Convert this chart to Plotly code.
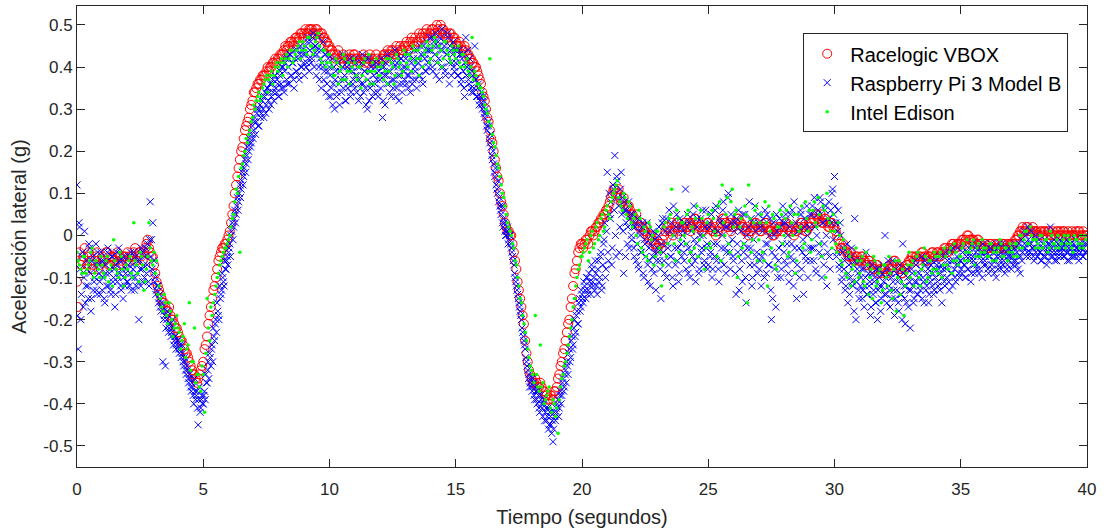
import numpy as np
import plotly.graph_objects as go

# ---------------- data ----------------
# Racelogic VBOX: samples at t = 0.0, 0.1, ... s  (vbox_a) and t = 0.05, 0.15, ... s (vbox_b)
vbox_dt = 0.1
vbox_a = [
    -0.11, -0.04, -0.06, -0.03, -0.07, -0.05, -0.08, -0.06, -0.04, -0.07,
    -0.05, -0.06, -0.04, -0.07, -0.05, -0.06, -0.04, -0.05, -0.07, -0.05,
    -0.04, -0.06, -0.05, -0.03, -0.05, -0.04, -0.06, -0.03, -0.01, -0.04,
    -0.05, -0.09, -0.12, -0.14, -0.16, -0.17, -0.18, -0.19, -0.20, -0.22,
    -0.23, -0.25, -0.26, -0.28, -0.29, -0.31, -0.33, -0.34, -0.34, -0.32,
    -0.30, -0.26, -0.21, -0.17, -0.13, -0.10, -0.06, -0.04, -0.03, -0.02,
    0.00, 0.03, 0.07, 0.12, 0.16, 0.20, 0.23, 0.26, 0.28, 0.31,
    0.34, 0.35, 0.36, 0.37, 0.38, 0.39, 0.39, 0.40, 0.41, 0.41,
    0.42, 0.43, 0.44, 0.44, 0.45, 0.46, 0.46, 0.47, 0.47, 0.48,
    0.48, 0.48, 0.49, 0.49, 0.48, 0.49, 0.47, 0.48, 0.47, 0.46,
    0.45, 0.44, 0.43, 0.43, 0.42, 0.42, 0.41, 0.42, 0.43, 0.42,
    0.43, 0.42, 0.41, 0.42, 0.41, 0.42, 0.43, 0.42, 0.41, 0.42,
    0.41, 0.42, 0.43, 0.44, 0.43, 0.44, 0.43, 0.44, 0.45, 0.44,
    0.45, 0.45, 0.46, 0.46, 0.47, 0.46, 0.47, 0.48, 0.48, 0.47,
    0.48, 0.49, 0.48, 0.49, 0.50, 0.49, 0.48, 0.47, 0.48, 0.47,
    0.46, 0.45, 0.45, 0.44, 0.44, 0.43, 0.42, 0.41, 0.40, 0.38,
    0.36, 0.33, 0.30, 0.27, 0.23, 0.20, 0.16, 0.13, 0.08, 0.05,
    0.02, 0.01, 0.00, -0.04, -0.08, -0.13, -0.17, -0.21, -0.28, -0.32,
    -0.34, -0.35, -0.35, -0.36, -0.36, -0.37, -0.38, -0.39, -0.38, -0.37,
    -0.36, -0.33, -0.30, -0.27, -0.23, -0.20, -0.15, -0.09, -0.06, -0.03,
    -0.02, -0.02, -0.01, 0.00, 0.01, 0.01, 0.02, 0.03, 0.04, 0.05,
    0.06, 0.08, 0.10, 0.11, 0.10, 0.09, 0.08, 0.07, 0.07, 0.06,
    0.05, 0.04, 0.03, 0.02, 0.02, 0.01, 0.00, 0.00, -0.01, -0.02,
    -0.03, -0.02, -0.01, 0.01, 0.02, 0.01, 0.00, 0.02, 0.03, 0.01,
    0.02, 0.03, 0.02, 0.01, 0.03, 0.04, 0.03, 0.02, 0.01, 0.02,
    0.03, 0.02, 0.01, 0.00, 0.01, 0.03, 0.04, 0.03, 0.02, 0.01,
    0.02, 0.03, 0.04, 0.03, 0.02, 0.01, 0.00, 0.01, 0.02, 0.03,
    0.02, 0.01, 0.02, 0.03, 0.02, 0.01, 0.00, 0.01, 0.02, 0.01,
    0.02, 0.03, 0.02, 0.01, 0.00, 0.01, 0.02, 0.03, 0.02, 0.01,
    0.02, 0.03, 0.04, 0.05, 0.04, 0.03, 0.04, 0.03, 0.02, 0.03,
    0.02, 0.00, -0.02, -0.03, -0.03, -0.04, -0.05, -0.05, -0.06, -0.05,
    -0.06, -0.05, -0.06, -0.07, -0.06, -0.07, -0.08, -0.07, -0.08, -0.09,
    -0.08, -0.09, -0.08, -0.07, -0.06, -0.07, -0.08, -0.09, -0.08, -0.07,
    -0.06, -0.05, -0.05, -0.06, -0.05, -0.04, -0.05, -0.06, -0.05, -0.04,
    -0.05, -0.04, -0.05, -0.04, -0.03, -0.04, -0.03, -0.02, -0.03, -0.02,
    -0.02, -0.01, -0.01, 0.00, -0.01, -0.01, -0.02, -0.01, -0.02, -0.03,
    -0.02, -0.03, -0.02, -0.03, -0.03, -0.02, -0.03, -0.02, -0.03, -0.03,
    -0.02, -0.02, -0.01, 0.00, 0.01, 0.01, 0.02, 0.01, 0.01, 0.01,
    0.01, 0.00, 0.01, 0.01, 0.00, 0.01, 0.00, 0.00, 0.01, 0.00,
    0.00, 0.01, 0.00, 0.00, 0.01, 0.00, 0.00, 0.01, 0.00, 0.00,
    0.00,
]
vbox_b = [
    -0.17, -0.07, -0.05, -0.08, -0.04, -0.06, -0.07, -0.05, -0.08, -0.06,
    -0.06, -0.04, -0.07, -0.05, -0.06, -0.05, -0.07, -0.06, -0.05, -0.06,
    -0.05, -0.05, -0.04, -0.06, -0.04, -0.05, -0.04, -0.02, -0.03, -0.05,
    -0.07, -0.11, -0.13, -0.15, -0.16, -0.18, -0.17, -0.20, -0.21, -0.22,
    -0.24, -0.25, -0.27, -0.28, -0.30, -0.32, -0.33, -0.35, -0.33, -0.31,
    -0.27, -0.24, -0.19, -0.15, -0.12, -0.08, -0.05, -0.03, -0.02, -0.01,
    0.01, 0.05, 0.10, 0.14, 0.18, 0.21, 0.25, 0.27, 0.30, 0.32,
    0.34, 0.36, 0.37, 0.38, 0.38, 0.40, 0.40, 0.41, 0.42, 0.42,
    0.43, 0.43, 0.45, 0.45, 0.46, 0.45, 0.47, 0.46, 0.48, 0.47,
    0.49, 0.48, 0.49, 0.48, 0.49, 0.48, 0.48, 0.47, 0.46, 0.45,
    0.44, 0.43, 0.42, 0.44, 0.41, 0.43, 0.42, 0.41, 0.42, 0.43,
    0.42, 0.41, 0.42, 0.43, 0.42, 0.41, 0.42, 0.41, 0.43, 0.41,
    0.42, 0.43, 0.42, 0.43, 0.44, 0.43, 0.45, 0.43, 0.44, 0.45,
    0.46, 0.44, 0.47, 0.45, 0.46, 0.48, 0.47, 0.47, 0.49, 0.48,
    0.49, 0.48, 0.50, 0.48, 0.49, 0.48, 0.47, 0.48, 0.46, 0.47,
    0.45, 0.46, 0.44, 0.45, 0.43, 0.42, 0.41, 0.40, 0.39, 0.37,
    0.34, 0.32, 0.28, 0.25, 0.22, 0.18, 0.14, 0.10, 0.07, 0.03,
    0.01, 0.00, -0.02, -0.06, -0.11, -0.15, -0.19, -0.25, -0.30, -0.33,
    -0.35, -0.34, -0.36, -0.35, -0.37, -0.38, -0.39, -0.38, -0.39, -0.37,
    -0.34, -0.31, -0.28, -0.25, -0.21, -0.17, -0.12, -0.08, -0.04, -0.02,
    -0.03, -0.01, -0.02, 0.01, 0.00, 0.02, 0.03, 0.04, 0.05, 0.06,
    0.07, 0.09, 0.11, 0.10, 0.11, 0.08, 0.09, 0.06, 0.07, 0.05,
    0.04, 0.05, 0.02, 0.03, 0.01, 0.02, -0.01, 0.00, -0.02, -0.03,
    -0.02, -0.03, 0.00, 0.02, 0.01, 0.03, 0.01, 0.03, 0.02, 0.02,
    0.03, 0.02, 0.03, 0.02, 0.04, 0.03, 0.02, 0.01, 0.02, 0.03,
    0.02, 0.01, 0.02, 0.01, 0.02, 0.04, 0.03, 0.02, 0.03, 0.02,
    0.03, 0.04, 0.03, 0.02, 0.01, 0.02, 0.01, 0.02, 0.03, 0.02,
    0.01, 0.02, 0.03, 0.02, 0.01, 0.00, 0.02, 0.01, 0.02, 0.02,
    0.03, 0.02, 0.01, 0.02, 0.01, 0.02, 0.03, 0.02, 0.01, 0.02,
    0.03, 0.04, 0.05, 0.04, 0.05, 0.03, 0.04, 0.02, 0.03, 0.02,
    0.01, -0.01, -0.03, -0.02, -0.04, -0.05, -0.04, -0.06, -0.05, -0.06,
    -0.05, -0.06, -0.07, -0.06, -0.07, -0.08, -0.07, -0.09, -0.08, -0.08,
    -0.09, -0.08, -0.07, -0.06, -0.07, -0.08, -0.09, -0.08, -0.07, -0.06,
    -0.05, -0.06, -0.05, -0.05, -0.04, -0.05, -0.06, -0.05, -0.04, -0.05,
    -0.04, -0.05, -0.04, -0.03, -0.04, -0.03, -0.02, -0.03, -0.02, -0.02,
    -0.01, -0.02, 0.00, -0.01, -0.01, -0.02, -0.01, -0.02, -0.03, -0.02,
    -0.03, -0.02, -0.03, -0.02, -0.03, -0.03, -0.02, -0.03, -0.02, -0.02,
    -0.02, -0.01, 0.00, 0.01, 0.02, 0.01, 0.02, 0.01, 0.02, 0.01,
    0.00, 0.01, 0.00, 0.01, 0.01, 0.00, 0.01, 0.00, 0.01, 0.01,
    0.01, 0.00, 0.01, 0.00, 0.00, 0.01, 0.01, 0.00, 0.01, 0.00,
]

# Raspberry Pi 3 Model B: samples at t = 0.0, 0.05, ... s (rpi_a) and t = 0.025, 0.075, ... s (rpi_b)
rpi_dt = 0.05
rpi_a = [
    0.12, -0.27, 0.02, -0.20, -0.05, -0.17, 0.01, -0.12, -0.08, -0.15, -0.03, -0.18, -0.06, -0.13, -0.10, -0.02, -0.14, -0.07, -0.11, -0.04,
    -0.13, -0.06, -0.16, -0.09, -0.04, -0.12, -0.08, -0.14, -0.05, -0.10, -0.17, -0.07, -0.11, -0.03, -0.09, -0.13, -0.06, -0.10, -0.12, -0.08,
    -0.11, -0.05, -0.09, -0.13, -0.07, -0.04, -0.10, -0.12, -0.06, -0.20, -0.08, -0.03, -0.11, -0.07, -0.05, -0.09, -0.02, -0.12, 0.08, -0.01,
    0.03, -0.06, -0.10, -0.13, -0.12, -0.15, -0.17, -0.16, -0.30, -0.18, -0.31, -0.20, -0.19, -0.22, -0.21, -0.23, -0.20, -0.25, -0.24, -0.26,
    -0.25, -0.28, -0.27, -0.26, -0.30, -0.29, -0.32, -0.31, -0.34, -0.33, -0.36, -0.35, -0.38, -0.34, -0.39, -0.37, -0.45, -0.36, -0.41, -0.38,
    -0.40, -0.37, -0.33, -0.35, -0.30, -0.28, -0.31, -0.26, -0.22, -0.25, -0.20, -0.16, -0.19, -0.12, -0.14, -0.09, -0.11, -0.06, -0.08, -0.05,
    -0.04, -0.02, 0.00, 0.03, 0.02, 0.06, 0.05, 0.09, 0.08, 0.12, 0.11, 0.15, 0.14, 0.18, 0.17, 0.21, 0.20, 0.23, 0.22, 0.26,
    0.25, 0.28, 0.27, 0.30, 0.26, 0.31, 0.29, 0.33, 0.28, 0.34, 0.31, 0.35, 0.30, 0.36, 0.33, 0.37, 0.32, 0.38, 0.34, 0.36,
    0.33, 0.39, 0.35, 0.40, 0.34, 0.41, 0.37, 0.42, 0.36, 0.43, 0.38, 0.41, 0.35, 0.44, 0.39, 0.42, 0.37, 0.45, 0.40, 0.43,
    0.38, 0.45, 0.41, 0.47, 0.39, 0.46, 0.42, 0.48, 0.40, 0.45, 0.43, 0.47, 0.37, 0.44, 0.41, 0.46, 0.39, 0.43, 0.36, 0.42,
    0.40, 0.33, 0.42, 0.36, 0.30, 0.39, 0.34, 0.41, 0.31, 0.37, 0.43, 0.35, 0.38, 0.32, 0.40, 0.36, 0.42, 0.34, 0.39, 0.37,
    0.35, 0.41, 0.38, 0.32, 0.40, 0.36, 0.43, 0.34, 0.39, 0.31, 0.30, 0.42, 0.35, 0.40, 0.33, 0.38, 0.36, 0.41, 0.34, 0.39,
    0.37, 0.42, 0.28, 0.40, 0.31, 0.38, 0.43, 0.36, 0.39, 0.33, 0.41, 0.37, 0.44, 0.35, 0.40, 0.32, 0.38, 0.42, 0.36, 0.39,
    0.40, 0.36, 0.43, 0.38, 0.34, 0.41, 0.37, 0.44, 0.39, 0.35, 0.42, 0.38, 0.45, 0.40, 0.36, 0.43, 0.39, 0.46, 0.41, 0.44,
    0.42, 0.47, 0.39, 0.45, 0.48, 0.41, 0.46, 0.37, 0.44, 0.49, 0.40, 0.45, 0.38, 0.43, 0.47, 0.36, 0.44, 0.41, 0.46, 0.39,
    0.41, 0.44, 0.38, 0.43, 0.36, 0.42, 0.39, 0.33, 0.47, 0.40, 0.37, 0.42, 0.35, 0.39, 0.34, 0.45, 0.37, 0.33, 0.36, 0.32,
    0.34, 0.30, 0.32, 0.28, 0.29, 0.25, 0.26, 0.22, 0.21, 0.18, 0.17, 0.14, 0.12, 0.10, 0.08, 0.07, 0.05, 0.03, 0.04, 0.01,
    0.00, 0.02, -0.01, 0.00, -0.03, -0.05, -0.07, -0.10, -0.12, -0.14, -0.16, -0.18, -0.20, -0.23, -0.25, -0.27, -0.30, -0.32, -0.33, -0.35,
    -0.36, -0.34, -0.38, -0.36, -0.39, -0.37, -0.41, -0.38, -0.40, -0.43, -0.39, -0.42, -0.44, -0.41, -0.45, -0.43, -0.47, -0.49, -0.42, -0.44,
    -0.42, -0.39, -0.41, -0.37, -0.38, -0.34, -0.36, -0.32, -0.30, -0.33, -0.27, -0.29, -0.24, -0.26, -0.20, -0.23, -0.18, -0.21, -0.15, -0.17,
    -0.14, -0.16, -0.12, -0.15, -0.10, -0.13, -0.11, -0.14, -0.08, -0.12, -0.13, -0.09, -0.14, -0.06, -0.10, -0.04, -0.12, -0.02, 0.03, -0.08,
    0.15, -0.06, 0.05, 0.08, -0.03, 0.11, 0.19, -0.05, 0.13, 0.07, 0.02, 0.15, 0.09, -0.09, 0.06, 0.03, -0.02, 0.08, 0.04, 0.00,
    0.05, -0.03, 0.02, -0.06, 0.04, -0.08, 0.00, -0.04, 0.03, -0.10, -0.02, 0.01, -0.07, -0.03, -0.12, 0.00, -0.05, -0.09, -0.01, -0.06,
    -0.04, 0.02, -0.08, -0.02, 0.04, -0.06, 0.01, -0.10, -0.03, 0.06, -0.05, 0.03, -0.12, 0.00, -0.07, 0.05, -0.03, -0.09, 0.02, -0.05,
    0.01, -0.06, 0.11, -0.02, -0.09, 0.03, -0.04, -0.07, 0.05, -0.01, -0.11, 0.02, -0.05, -0.08, 0.04, -0.03, 0.00, -0.06, 0.06, -0.02,
    -0.07, 0.03, -0.04, -0.10, 0.01, -0.05, 0.07, -0.02, -0.08, 0.04, -0.06, 0.00, 0.08, -0.03, -0.09, 0.02, 0.10, -0.04, 0.05, -0.01,
    -0.06, 0.03, -0.14, -0.02, 0.06, -0.08, 0.01, -0.11, -0.04, 0.05, -0.16, -0.03, 0.02, -0.07, 0.04, -0.10, -0.01, 0.07, -0.05, -0.09,
    0.03, -0.06, -0.12, 0.01, -0.04, 0.06, -0.09, -0.02, -0.07, 0.04, -0.20, -0.15, 0.00, -0.05, 0.05, -0.10, -0.03, 0.02, -0.08, 0.07,
    -0.04, 0.03, -0.07, 0.00, -0.11, 0.05, -0.02, -0.06, 0.08, -0.09, -0.15, 0.01, -0.03, 0.06, -0.08, -0.01, 0.04, -0.05, 0.07, -0.10,
    0.02, -0.06, 0.05, -0.03, 0.09, -0.08, 0.00, 0.06, -0.04, 0.08, -0.10, 0.03, -0.02, 0.07, -0.12, 0.04, -0.05, 0.06, 0.10, -0.01,
    0.14, 0.03, -0.04, 0.06, -0.08, 0.00, -0.10, -0.03, -0.06, -0.12, -0.02, -0.09, -0.14, -0.05, -0.11, -0.07, 0.04, -0.20, -0.08, -0.13,
    -0.06, -0.10, -0.15, -0.08, -0.12, -0.04, -0.14, -0.09, -0.11, -0.17, -0.07, -0.13, -0.10, -0.16, -0.20, -0.08, -0.12, -0.15, -0.09, -0.11,
    0.00, -0.14, -0.08, -0.12, -0.17, -0.10, -0.06, -0.13, -0.15, -0.09, -0.11, -0.18, -0.07, -0.14, -0.02, -0.12, -0.21, -0.16, -0.10, -0.13,
    -0.22, -0.08, -0.12, -0.15, -0.06, -0.11, -0.14, -0.09, -0.13, -0.05, -0.10, -0.16, -0.07, -0.12, -0.08, -0.14, -0.11, -0.06, -0.09, -0.13,
    -0.10, -0.07, -0.12, -0.05, -0.09, -0.16, -0.08, -0.11, -0.04, -0.10, -0.07, -0.13, -0.06, -0.09, -0.03, -0.08, -0.11, -0.05, -0.07, -0.10,
    -0.06, -0.09, -0.03, -0.07, -0.10, -0.04, -0.08, -0.05, -0.11, -0.02, -0.06, -0.09, -0.04, -0.07, -0.03, -0.08, -0.05, -0.10, -0.04, -0.06,
    -0.07, -0.03, -0.09, -0.05, -0.02, -0.08, -0.04, -0.06, -0.10, -0.03, -0.07, -0.05, -0.08, -0.02, -0.06, -0.09, -0.04, -0.07, -0.03, -0.05,
    -0.08, -0.04, -0.06, -0.02, -0.07, -0.03, -0.05, -0.09, -0.01, -0.04, 0.01, -0.03, -0.05, 0.02, -0.02, -0.04, 0.01, -0.03, -0.06, 0.00,
    -0.03, -0.05, -0.01, -0.04, -0.06, -0.02, -0.03, -0.05, -0.07, -0.02, -0.04, 0.02, -0.03, -0.05, -0.01, -0.04, -0.06, -0.02, -0.03, -0.05,
    -0.04, -0.02, -0.05, -0.03, -0.01, -0.04, -0.06, -0.02, -0.03, -0.05, -0.04, -0.01, -0.03, -0.05, -0.02, -0.04, -0.03, -0.05, -0.02, -0.04,
]
rpi_b = [
    -0.19, 0.03, -0.08, -0.14, -0.04, -0.10, -0.16, -0.06, -0.12, -0.02, -0.09, -0.15, -0.05, -0.11, -0.07, -0.13, -0.04, -0.09, -0.14, -0.06,
    -0.10, -0.15, -0.07, -0.12, -0.03, -0.09, -0.13, -0.05, -0.11, -0.08, -0.14, -0.04, -0.10, -0.06, -0.12, -0.08, -0.15, -0.05, -0.09, -0.11,
    -0.07, -0.12, -0.04, -0.10, -0.08, -0.13, -0.05, -0.09, -0.11, -0.06, -0.12, -0.08, -0.04, -0.10, -0.03, -0.07, -0.11, -0.01, -0.05, -0.08,
    -0.09, -0.11, -0.14, -0.12, -0.16, -0.14, -0.18, -0.17, -0.20, -0.19, -0.22, -0.18, -0.23, -0.21, -0.24, -0.22, -0.26, -0.24, -0.27, -0.25,
    -0.27, -0.26, -0.29, -0.28, -0.31, -0.30, -0.33, -0.32, -0.35, -0.34, -0.37, -0.36, -0.40, -0.37, -0.38, -0.41, -0.39, -0.42, -0.39, -0.40,
    -0.38, -0.39, -0.35, -0.32, -0.34, -0.29, -0.27, -0.30, -0.24, -0.21, -0.23, -0.18, -0.20, -0.15, -0.13, -0.10, -0.12, -0.08, -0.06, -0.07,
    -0.03, -0.05, 0.01, -0.01, 0.04, 0.03, 0.07, 0.06, 0.10, 0.09, 0.13, 0.12, 0.16, 0.15, 0.19, 0.18, 0.22, 0.21, 0.24, 0.23,
    0.27, 0.24, 0.29, 0.26, 0.30, 0.28, 0.32, 0.30, 0.33, 0.29, 0.35, 0.32, 0.34, 0.31, 0.36, 0.34, 0.38, 0.35, 0.37, 0.33,
    0.38, 0.36, 0.40, 0.35, 0.39, 0.42, 0.36, 0.40, 0.43, 0.38, 0.41, 0.37, 0.42, 0.39, 0.44, 0.38, 0.43, 0.40, 0.44, 0.41,
    0.43, 0.40, 0.46, 0.42, 0.44, 0.41, 0.47, 0.43, 0.45, 0.38, 0.44, 0.40, 0.42, 0.35, 0.40, 0.37, 0.43, 0.34, 0.39, 0.33,
    0.38, 0.35, 0.31, 0.40, 0.37, 0.33, 0.41, 0.36, 0.39, 0.34, 0.40, 0.37, 0.32, 0.41, 0.35, 0.39, 0.33, 0.40, 0.36, 0.42,
    0.38, 0.34, 0.40, 0.37, 0.33, 0.41, 0.36, 0.39, 0.35, 0.42, 0.37, 0.32, 0.39, 0.36, 0.41, 0.34, 0.40, 0.37, 0.33, 0.38,
    0.35, 0.40, 0.32, 0.38, 0.41, 0.36, 0.39, 0.34, 0.42, 0.37, 0.35, 0.40, 0.33, 0.41, 0.38, 0.36, 0.42, 0.34, 0.40, 0.37,
    0.42, 0.38, 0.35, 0.43, 0.39, 0.36, 0.42, 0.40, 0.37, 0.44, 0.41, 0.38, 0.43, 0.37, 0.45, 0.42, 0.39, 0.44, 0.40, 0.47,
    0.44, 0.40, 0.46, 0.43, 0.38, 0.45, 0.42, 0.47, 0.40, 0.44, 0.46, 0.39, 0.43, 0.48, 0.41, 0.45, 0.38, 0.43, 0.40, 0.44,
    0.42, 0.38, 0.44, 0.40, 0.37, 0.43, 0.35, 0.41, 0.38, 0.44, 0.36, 0.40, 0.34, 0.38, 0.35, 0.37, 0.33, 0.35, 0.31, 0.33,
    0.31, 0.33, 0.29, 0.30, 0.26, 0.27, 0.23, 0.24, 0.19, 0.20, 0.15, 0.16, 0.11, 0.13, 0.09, 0.06, 0.07, 0.02, 0.03, 0.00,
    0.01, -0.02, 0.00, -0.02, -0.04, -0.06, -0.09, -0.11, -0.13, -0.15, -0.17, -0.19, -0.22, -0.24, -0.26, -0.29, -0.31, -0.34, -0.36, -0.34,
    -0.37, -0.35, -0.39, -0.37, -0.40, -0.38, -0.42, -0.39, -0.41, -0.40, -0.44, -0.41, -0.43, -0.46, -0.42, -0.45, -0.44, -0.46, -0.43, -0.41,
    -0.40, -0.43, -0.38, -0.40, -0.35, -0.37, -0.33, -0.35, -0.31, -0.28, -0.30, -0.25, -0.27, -0.22, -0.24, -0.19, -0.21, -0.16, -0.18, -0.13,
    -0.15, -0.11, -0.13, -0.10, -0.14, -0.09, -0.12, -0.07, -0.11, -0.10, -0.06, -0.12, -0.08, -0.11, -0.05, -0.13, -0.07, -0.01, -0.10, 0.01,
    -0.04, 0.10, 0.04, -0.07, 0.12, 0.06, 0.00, 0.14, 0.09, -0.04, 0.11, 0.05, 0.01, 0.08, -0.05, 0.06, 0.02, -0.03, 0.05, -0.01,
    0.02, -0.05, 0.03, -0.02, -0.07, 0.01, -0.04, 0.02, -0.09, -0.01, -0.05, 0.03, -0.11, -0.06, -0.02, -0.08, 0.01, -0.04, -0.13, -0.03,
    0.00, -0.06, -0.15, 0.03, -0.04, -0.09, 0.04, -0.02, -0.07, 0.01, -0.05, -0.10, 0.07, -0.03, 0.02, -0.06, -0.11, 0.04, -0.02, 0.00,
    -0.04, 0.03, -0.08, 0.05, -0.03, -0.10, 0.01, -0.05, 0.07, -0.06, -0.02, 0.04, -0.09, 0.00, -0.04, 0.06, -0.07, 0.02, -0.03, -0.08,
    0.02, -0.05, 0.05, -0.08, -0.02, 0.06, -0.06, 0.01, -0.11, 0.03, -0.03, 0.06, -0.07, 0.02, -0.04, 0.09, -0.02, -0.08, 0.03, -0.05,
    0.01, -0.09, 0.04, -0.04, -0.13, 0.02, -0.06, 0.05, -0.02, -0.10, 0.00, -0.05, 0.08, -0.03, -0.12, 0.03, -0.07, 0.01, -0.04, 0.05,
    -0.08, 0.02, -0.05, 0.04, -0.10, -0.02, 0.05, -0.07, 0.00, -0.13, -0.04, 0.03, -0.08, -0.17, 0.01, -0.06, 0.04, -0.10, -0.02, 0.03,
    -0.06, 0.05, -0.02, -0.09, 0.02, -0.05, 0.06, -0.12, -0.03, 0.03, -0.07, 0.01, -0.10, 0.05, -0.04, -0.14, 0.02, -0.06, 0.00, -0.03,
    0.05, -0.03, 0.07, -0.06, 0.02, -0.09, 0.05, -0.02, 0.09, -0.05, 0.03, -0.07, 0.06, 0.00, -0.04, 0.08, -0.08, 0.03, 0.11, 0.05,
    0.07, -0.05, 0.01, -0.07, 0.03, -0.11, -0.04, -0.08, -0.13, -0.05, -0.16, -0.07, -0.10, -0.03, -0.12, -0.18, -0.06, -0.11, -0.09, -0.15,
    -0.12, -0.08, -0.13, -0.17, -0.10, -0.14, -0.07, -0.12, -0.19, -0.09, -0.14, -0.11, -0.16, -0.08, -0.13, -0.10, -0.18, -0.12, -0.07, -0.14,
    -0.10, -0.16, -0.06, -0.13, -0.09, -0.15, -0.11, -0.19, -0.08, -0.13, -0.16, -0.10, -0.14, -0.20, -0.09, -0.15, -0.12, -0.08, -0.17, -0.11,
    -0.13, -0.09, -0.16, -0.11, -0.07, -0.14, -0.10, -0.12, -0.08, -0.15, -0.11, -0.06, -0.13, -0.09, -0.16, -0.10, -0.07, -0.12, -0.14, -0.08,
    -0.06, -0.11, -0.08, -0.13, -0.07, -0.10, -0.05, -0.12, -0.08, -0.06, -0.11, -0.04, -0.09, -0.12, -0.06, -0.10, -0.07, -0.03, -0.09, -0.06,
    -0.08, -0.04, -0.07, -0.10, -0.05, -0.08, -0.03, -0.06, -0.09, -0.05, -0.07, -0.03, -0.08, -0.05, -0.09, -0.04, -0.06, -0.02, -0.07, -0.05,
    -0.04, -0.08, -0.05, -0.03, -0.07, -0.06, -0.09, -0.04, -0.05, -0.08, -0.02, -0.06, -0.04, -0.07, -0.05, -0.03, -0.08, -0.05, -0.06, -0.04,
    -0.05, -0.07, -0.03, -0.06, -0.04, -0.08, -0.02, -0.05, -0.06, -0.03, -0.02, 0.00, -0.04, -0.01, -0.05, -0.02, -0.03, -0.05, -0.01, -0.04,
    -0.05, -0.02, -0.04, -0.06, -0.03, -0.05, -0.01, -0.04, -0.03, -0.06, -0.02, -0.05, -0.04, -0.02, -0.06, -0.03, -0.05, -0.04, -0.01, -0.03,
    -0.03, -0.05, -0.02, -0.04, -0.06, -0.03, -0.02, -0.05, -0.04, -0.02, -0.05, -0.03, -0.04, -0.06, -0.03, -0.02, -0.05, -0.03, -0.04, -0.02,
]

# Intel Edison: samples at t = 0.05, 0.15, ... s (edison_a) and t = 0.0, 0.1, ... s (edison_b)
edison_dt = 0.1
edison_a = [
    -0.06, -0.08, -0.05, -0.09, -0.07, -0.04, -0.10, -0.06, -0.08, -0.05,
    -0.09, -0.06, -0.11, -0.07, -0.01, -0.08, -0.10, -0.05, -0.12, -0.07,
    -0.06, -0.09, 0.03, -0.07, -0.11, -0.05, -0.13, -0.08, 0.03, -0.06,
    -0.04, -0.06, -0.12, -0.17, -0.14, -0.19, -0.16, -0.20, -0.22, -0.19,
    -0.23, -0.25, -0.21, -0.27, -0.16, -0.30, -0.22, -0.33, -0.36, -0.31,
    -0.42, -0.15, -0.25, -0.19, -0.14, -0.10, -0.07, -0.05, -0.03, -0.02,
    0.00, 0.04, 0.08, 0.10, -0.04, 0.17, 0.20, 0.22, 0.25, 0.28,
    0.30, 0.33, 0.32, 0.35, 0.37, 0.34, 0.38, 0.36, 0.40, 0.39,
    0.41, 0.38, 0.42, 0.40, 0.44, 0.41, 0.43, 0.45, 0.42, 0.46,
    0.44, 0.47, 0.45, 0.43, 0.46, 0.48, 0.42, 0.44, 0.40, 0.43,
    0.41, 0.38, 0.42, 0.36, 0.40, 0.43, 0.37, 0.41, 0.39, 0.42,
    0.38, 0.40, 0.35, 0.41, 0.37, 0.43, 0.39, 0.36, 0.42, 0.38,
    0.40, 0.37, 0.42, 0.39, 0.41, 0.36, 0.43, 0.40, 0.38, 0.44,
    0.41, 0.43, 0.39, 0.44, 0.42, 0.38, 0.45, 0.43, 0.46, 0.41,
    0.44, 0.47, 0.43, 0.45, 0.40, 0.46, 0.44, 0.42, 0.45, 0.43,
    0.44, 0.41, 0.43, 0.40, 0.42, 0.38, 0.47, 0.39, 0.36, 0.35,
    0.34, 0.31, 0.29, 0.42, 0.24, 0.21, 0.17, 0.14, 0.10, 0.07,
    0.03, 0.01, -0.02, -0.06, -0.10, -0.15, -0.19, -0.23, -0.27, -0.31,
    -0.33, -0.19, -0.36, -0.26, -0.35, -0.39, -0.37, -0.41, -0.39, -0.43,
    -0.47, -0.36, -0.33, -0.30, -0.26, -0.22, -0.17, -0.12, -0.08, -0.05,
    -0.04, -0.02, -0.06, 0.00, -0.03, 0.02, -0.01, 0.04, 0.01, 0.06,
    0.05, 0.08, 0.10, 0.12, 0.09, 0.07, 0.10, 0.05, 0.08, 0.03,
    0.04, 0.00, 0.06, -0.03, 0.02, -0.05, 0.03, -0.01, -0.07, 0.01,
    -0.03, -0.12, 0.02, -0.05, 0.04, 0.11, -0.02, 0.06, -0.04, 0.03,
    0.00, 0.05, -0.06, 0.02, -0.03, 0.07, -0.01, 0.04, -0.08, 0.03,
    -0.02, 0.06, 0.01, -0.05, 0.08, 0.12, 0.00, 0.09, -0.04, 0.11,
    0.05, -0.10, 0.02, -0.03, 0.07, -0.16, 0.04, -0.01, 0.06, -0.06,
    0.03, -0.04, 0.08, -0.12, 0.01, 0.05, -0.07, 0.02, 0.06, -0.02,
    0.04, -0.05, 0.07, 0.00, -0.09, 0.05, 0.02, -0.03, 0.08, 0.01,
    -0.04, 0.06, 0.03, 0.09, -0.02, 0.07, -0.10, 0.04, 0.01, 0.05,
    -0.02, 0.03, -0.06, -0.01, -0.09, -0.04, -0.12, -0.07, -0.03, -0.10,
    -0.06, -0.11, -0.04, -0.14, -0.08, -0.05, -0.12, -0.09, -0.16, -0.07,
    -0.10, -0.05, -0.13, -0.08, -0.18, -0.06, -0.11, -0.19, -0.09, -0.04,
    -0.07, -0.12, -0.05, -0.10, -0.08, -0.03, -0.11, -0.06, -0.09, -0.04,
    -0.08, -0.05, -0.10, -0.03, -0.07, -0.04, -0.09, -0.02, -0.06, -0.05,
    -0.03, -0.06, -0.01, -0.04, -0.02, -0.07, -0.03, -0.05, -0.01, -0.04,
    -0.05, -0.02, -0.06, -0.03, -0.04, -0.01, -0.05, -0.03, -0.06, -0.02,
    -0.04, -0.02, -0.05, 0.00, -0.03, 0.01, -0.02, 0.02, -0.01, -0.03,
    -0.02, 0.00, -0.03, -0.01, -0.04, 0.01, -0.02, -0.03, 0.00, -0.02,
    -0.01, -0.03, 0.00, -0.02, -0.04, -0.01, -0.02, 0.00, -0.03, -0.01,
]
edison_b = [
    -0.04, -0.07, -0.09, -0.05, -0.08, -0.06, -0.03, -0.09, -0.07, -0.10,
    -0.07, -0.10, -0.05, -0.08, -0.12, -0.06, -0.09, -0.04, -0.08, -0.10,
    -0.08, -0.05, -0.10, -0.06, -0.09, -0.04, -0.07, -0.11, -0.05, -0.03,
    -0.07, -0.09, -0.14, -0.15, -0.18, -0.16, -0.21, -0.18, -0.24, -0.21,
    -0.22, -0.27, -0.24, -0.29, -0.26, -0.32, -0.30, -0.35, -0.33, -0.37,
    -0.33, -0.28, -0.22, -0.17, -0.16, -0.12, -0.09, -0.06, -0.04, -0.03,
    -0.01, 0.02, 0.05, 0.11, 0.14, 0.16, 0.19, 0.23, 0.24, 0.27,
    0.31, 0.32, 0.34, 0.33, 0.36, 0.38, 0.37, 0.39, 0.38, 0.41,
    0.40, 0.42, 0.41, 0.43, 0.42, 0.44, 0.42, 0.44, 0.46, 0.44,
    0.45, 0.43, 0.47, 0.45, 0.44, 0.47, 0.45, 0.41, 0.44, 0.41,
    0.43, 0.40, 0.38, 0.41, 0.39, 0.37, 0.42, 0.39, 0.36, 0.40,
    0.41, 0.37, 0.40, 0.38, 0.42, 0.39, 0.36, 0.41, 0.39, 0.40,
    0.38, 0.41, 0.39, 0.36, 0.42, 0.40, 0.38, 0.42, 0.41, 0.39,
    0.43, 0.40, 0.42, 0.45, 0.41, 0.44, 0.42, 0.40, 0.44, 0.45,
    0.42, 0.45, 0.46, 0.41, 0.44, 0.42, 0.46, 0.43, 0.41, 0.44,
    0.42, 0.45, 0.40, 0.43, 0.41, 0.39, 0.40, 0.37, 0.38, 0.36,
    0.35, 0.33, 0.30, 0.27, 0.26, 0.22, 0.19, 0.16, 0.12, 0.09,
    0.05, 0.02, 0.00, -0.03, -0.07, -0.12, -0.16, -0.21, -0.25, -0.29,
    -0.32, -0.35, -0.33, -0.37, -0.36, -0.40, -0.38, -0.36, -0.42, -0.40,
    -0.41, -0.39, -0.34, -0.31, -0.28, -0.24, -0.20, -0.15, -0.10, -0.07,
    -0.05, -0.03, -0.01, -0.04, 0.01, -0.02, 0.03, 0.00, 0.05, 0.02,
    0.07, 0.04, 0.09, 0.11, 0.13, 0.08, 0.06, 0.09, 0.04, 0.07,
    0.02, 0.05, -0.02, 0.04, -0.04, 0.01, -0.06, 0.02, 0.00, -0.05,
    0.01, -0.04, -0.07, 0.03, -0.02, 0.05, 0.00, -0.06, 0.04, -0.01,
    0.03, -0.02, 0.06, -0.04, 0.01, 0.04, -0.05, 0.06, 0.00, -0.03,
    0.05, -0.03, 0.04, 0.00, 0.07, -0.06, 0.03, 0.05, -0.02, 0.08,
    0.02, 0.06, -0.05, 0.04, -0.02, 0.05, 0.12, -0.04, 0.03, 0.07,
    -0.01, 0.05, -0.06, 0.03, 0.07, -0.03, 0.04, -0.08, 0.02, 0.05,
    0.00, 0.06, -0.04, 0.03, 0.05, -0.06, 0.01, 0.07, -0.02, 0.04,
    0.06, -0.01, 0.08, 0.02, 0.05, -0.05, 0.06, 0.10, 0.03, -0.03,
    0.01, -0.04, 0.00, -0.07, -0.03, -0.10, -0.05, -0.08, -0.11, -0.06,
    -0.09, -0.05, -0.12, -0.07, -0.10, -0.15, -0.06, -0.11, -0.08, -0.13,
    -0.07, -0.12, -0.09, -0.15, -0.06, -0.10, -0.14, -0.08, -0.12, -0.07,
    -0.10, -0.06, -0.09, -0.04, -0.12, -0.07, -0.05, -0.10, -0.06, -0.08,
    -0.05, -0.09, -0.04, -0.07, -0.05, -0.08, -0.03, -0.06, -0.04, -0.07,
    -0.05, -0.02, -0.04, -0.06, -0.03, -0.01, -0.05, -0.02, -0.04, -0.03,
    -0.03, -0.05, -0.02, -0.04, -0.06, -0.03, -0.02, -0.05, -0.03, -0.04,
    -0.03, -0.05, -0.02, -0.03, 0.00, -0.01, 0.01, -0.02, 0.00, -0.01,
    -0.01, -0.03, 0.00, -0.02, -0.01, -0.03, 0.00, -0.02, -0.01, -0.03,
    -0.02, 0.00, -0.02, -0.01, -0.03, 0.00, -0.01, -0.03, -0.02, 0.00,
]

series_names = ["Racelogic VBOX", "Raspberry Pi 3 Model B", "Intel Edison"]
x_tick_vals = [0, 5, 10, 15, 20, 25, 30, 35, 40]
y_tick_vals = [-0.5, -0.4, -0.3, -0.2, -0.1, 0, 0.1, 0.2, 0.3, 0.4, 0.5]
y_tick_text = ["-0.5", "-0.4", "-0.3", "-0.2", "-0.1", "0", "0.1", "0.2", "0.3", "0.4", "0.5"]
x_title = "Tiempo (segundos)"
y_title = "Aceleración lateral (g)"

# sample-time grids
t_vbox = np.concatenate([np.arange(len(vbox_a)) * vbox_dt,
                         0.05 + np.arange(len(vbox_b)) * vbox_dt])
y_vbox = vbox_a + vbox_b
t_rpi = np.concatenate([np.arange(len(rpi_a)) * rpi_dt,
                        0.025 + np.arange(len(rpi_b)) * rpi_dt])
y_rpi = rpi_a + rpi_b
t_edison = np.concatenate([0.05 + np.arange(len(edison_a)) * edison_dt,
                           np.arange(len(edison_b)) * edison_dt])
y_edison = edison_a + edison_b

FONT = "Liberation Sans, Arial, Helvetica, sans-serif"
AXC = "#262626"

fig = go.Figure()
fig.add_trace(go.Scatter(
    x=t_vbox, y=y_vbox, mode="markers", name=series_names[0],
    marker=dict(symbol="circle-open", size=9, color="#ff0000", line=dict(width=1)),
))
fig.add_trace(go.Scatter(
    x=t_rpi, y=y_rpi, mode="markers", name=series_names[1],
    marker=dict(symbol="x-thin-open", size=7, color="#0000ff", line=dict(width=1)),
))
fig.add_trace(go.Scatter(
    x=t_edison, y=y_edison, mode="markers", name=series_names[2],
    marker=dict(symbol="circle", size=3.5, color="#00ff00", line=dict(width=0)),
))

axis_common = dict(
    showline=True, linecolor=AXC, linewidth=1, mirror="ticks",
    ticks="inside", ticklen=8, tickcolor=AXC, tickwidth=1,
    showgrid=False, zeroline=False,
    tickfont=dict(family=FONT, size=17, color=AXC),
)

fig.update_layout(
    width=1105, height=530,
    margin=dict(l=77, r=18, t=6, b=63),
    paper_bgcolor="white", plot_bgcolor="white",
    font=dict(family=FONT, color=AXC),
    xaxis=dict(range=[0, 40], tickvals=x_tick_vals, ticklabelstandoff=7,
               title=dict(text=x_title, font=dict(family=FONT, size=20, color=AXC), standoff=11),
               **axis_common),
    yaxis=dict(range=[-0.55, 0.545], tickvals=y_tick_vals, ticktext=y_tick_text,
               title=dict(text=y_title, font=dict(family=FONT, size=20, color=AXC), standoff=11),
               **axis_common),
    legend=dict(
        x=0.719, y=0.941, xanchor="left", yanchor="top",
        bgcolor="white", bordercolor=AXC, borderwidth=1,
        font=dict(family=FONT, size=20, color="#000000"),
        itemsizing="trace", itemwidth=36, tracegroupgap=0,
    ),
    showlegend=True,
)

fig.write_html("out.html")
